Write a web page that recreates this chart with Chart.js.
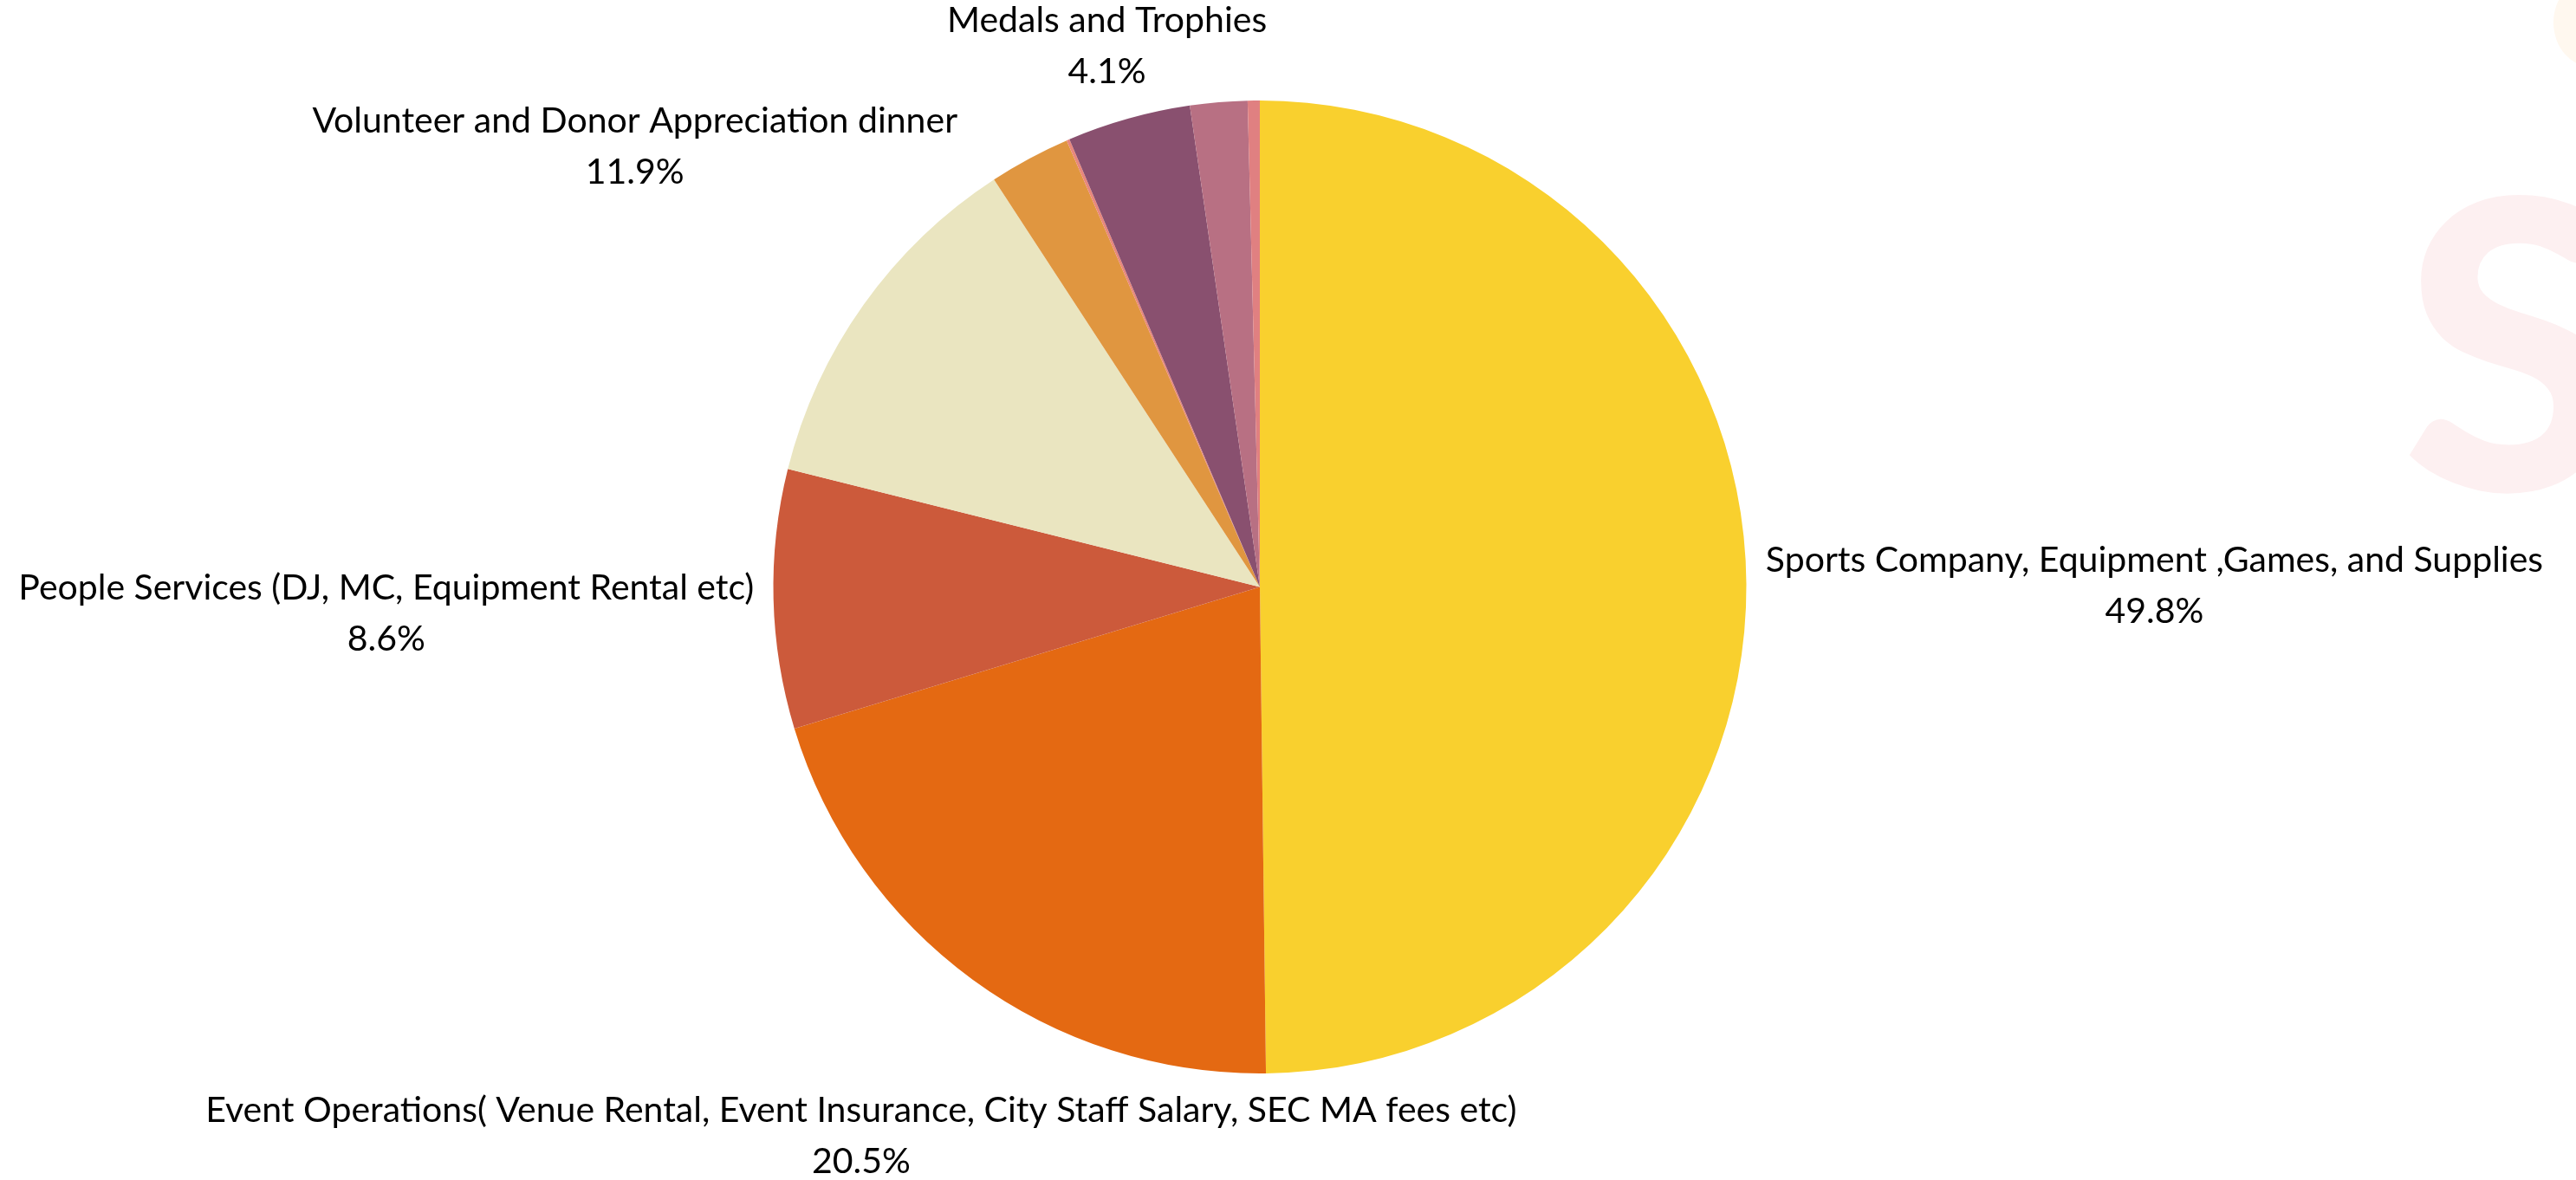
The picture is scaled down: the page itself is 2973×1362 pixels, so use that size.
<!DOCTYPE html>
<html>
<head>
<meta charset="utf-8">
<script src="https://cdn.jsdelivr.net/npm/chart.js@4"></script>
<style>
  html, body { margin: 0; padding: 0; background: #ffffff; }
  canvas { display: block; }
</style>
</head>
<body>
<canvas id="pieChart" width="2973" height="1362"></canvas>
<script>
// categories, clockwise from 12 o'clock
const categories = [
    "Sports Company, Equipment ,Games, and Supplies",
    "Event Operations( Venue Rental, Event Insurance, City Staff Salary, SEC MA fees etc)",
    "People Services (DJ, MC, Equipment Rental etc)",
    "Volunteer and Donor Appreciation dinner",
    "Other 1",
    "Other 2",
    "Medals and Trophies",
    "Other 3",
    "Other 4"
];
// percent of total
const shares = [49.8, 20.5, 8.6, 11.9, 2.7, 0.1, 4.1, 1.9, 0.4];
const sliceColors = ["#F9D02E", "#E46912", "#CC5A3B", "#EAE5C0", "#E09640", "#E8877C", "#89506F", "#B87083", "#E08081"];
// only slices at or above this get an outside label
const labelMin = 4;

document.addEventListener("DOMContentLoaded", () => {

    // faint logo in the top right corner
    const backdrop = {
        id: 'backdrop',
        beforeDraw(chart) {
            const c = chart.ctx;
            c.save();
            c.fillStyle = '#FFF8EF';
            c.beginPath();
            c.ellipse(2993, 26, 46, 52, 0, 0, Math.PI * 2);
            c.fill();
            c.fillStyle = '#FDF0F1';
            c.font = '900 465px Lato';
            c.textBaseline = 'alphabetic';
            c.textAlign = 'left';
            c.fillText('S', 2772, 566);
            c.restore();
        }
    };

    // two line labels outside the pie, pushed out along the slice middle
    const outsideLabels = {
        id: 'outsideLabels',
        afterDatasetsDraw(chart) {
            const c = chart.ctx;
            const meta = chart.getDatasetMeta(0);
            const lineGap = 59;
            const halfH = 45;
            const pad = 22;
            const nudge = 5;
            c.save();
            c.font = '41px Lato';
            c.fillStyle = '#000000';
            c.textAlign = 'center';
            c.textBaseline = 'middle';
            meta.data.forEach((arc, i) => {
                if (shares[i] < labelMin) return;
                const p = arc.getProps(['x', 'y', 'startAngle', 'endAngle', 'outerRadius'], true);
                const mid = (p.startAngle + p.endAngle) / 2;
                const ux = Math.cos(mid), uy = Math.sin(mid);
                const line1 = categories[i];
                const line2 = shares[i].toFixed(1) + '%';
                const halfW = Math.max(c.measureText(line1).width, c.measureText(line2).width) / 2;
                let d = p.outerRadius;
                for (; d < 3000; d += 1) {
                    const cx = ux * d, cy = uy * d;
                    const nx = Math.max(cx - halfW, 0, -(cx + halfW));
                    const ny = Math.max(cy - halfH, 0, -(cy + halfH));
                    if (Math.sqrt(nx * nx + ny * ny) >= p.outerRadius + pad) break;
                }
                const lx = p.x + ux * d, ly = p.y + uy * d + nudge;
                c.fillText(line1, lx, ly - lineGap / 2);
                c.fillText(line2, lx, ly + lineGap / 2);
            });
            c.restore();
        }
    };

    new Chart(document.getElementById('pieChart'), {
        type: 'pie',
        data: {
            labels: categories,
            datasets: [{
                data: shares,
                backgroundColor: sliceColors,
                borderWidth: 0
            }]
        },
        options: {
            responsive: false,
            devicePixelRatio: 1,
            animation: false,
            layout: { padding: { left: 892, right: 957, top: 116, bottom: 123 } },
            plugins: {
                legend: { display: false },
                tooltip: { enabled: false }
            }
        },
        plugins: [backdrop, outsideLabels]
    });

});
</script>
</body>
</html>
